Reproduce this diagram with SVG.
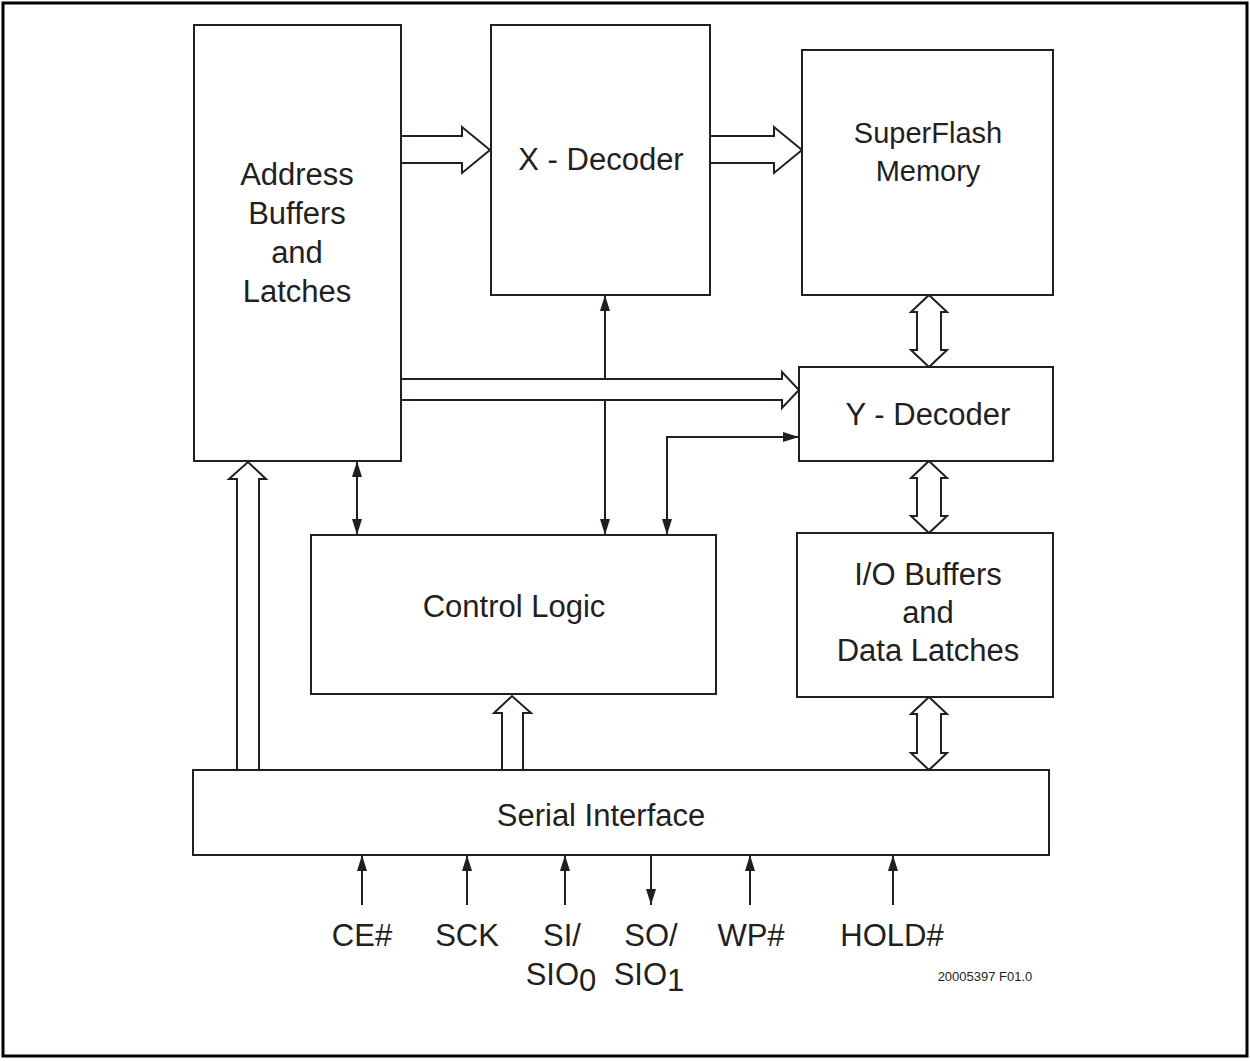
<svg xmlns="http://www.w3.org/2000/svg" width="1250" height="1061" viewBox="0 0 1250 1061">
<defs>
<style>
.box{fill:#fff;stroke:#231f20;stroke-width:2}
.fat{fill:#fff;stroke:#231f20;stroke-width:2;stroke-linejoin:miter}
.ln{fill:none;stroke:#231f20;stroke-width:2}
.t{font-family:"Liberation Sans",Arial,sans-serif;font-size:31px;fill:#231f20;text-anchor:middle}
.s{font-family:"Liberation Sans",Arial,sans-serif;font-size:13px;fill:#231f20;text-anchor:middle}
</style>
<marker id="ah" viewBox="0 0 16 10" refX="16" refY="5" markerWidth="16" markerHeight="10" markerUnits="userSpaceOnUse" orient="auto-start-reverse">
<path d="M0,0 L16,5 L0,10 z" fill="#231f20"/>
</marker>
</defs>
<rect x="3" y="3" width="1244" height="1053" fill="#fff" stroke="#000" stroke-width="3"/>

<g id="connectors">
<path class="ln" d="M605,295 L605,535" marker-start="url(#ah)" marker-end="url(#ah)"/>
<path class="ln" d="M667,535 L667,437 L799,437" marker-start="url(#ah)" marker-end="url(#ah)"/>
<path class="ln" d="M357,461 L357,535" marker-start="url(#ah)" marker-end="url(#ah)"/>
<path class="ln" d="M362,905 L362,855" marker-end="url(#ah)"/>
<path class="ln" d="M467,905 L467,855" marker-end="url(#ah)"/>
<path class="ln" d="M565,905 L565,855" marker-end="url(#ah)"/>
<path class="ln" d="M651,855 L651,905" marker-end="url(#ah)"/>
<path class="ln" d="M750,905 L750,855" marker-end="url(#ah)"/>
<path class="ln" d="M893,905 L893,855" marker-end="url(#ah)"/>
<polygon class="fat" points="401,136 462,136 462,127 490,150 462,173 462,163 401,163"/>
<polygon class="fat" points="710,136 774,136 774,127 802,150 774,173 774,163 710,163"/>
<polygon class="fat" points="401,379 782,379 782,372 799,390 782,408 782,400 401,400"/>
<polygon class="fat" points="929,295 947,312 941,312 941,350 947,350 929,367 911,350 917,350 917,312 911,312"/>
<polygon class="fat" points="929,461 947,478 941,478 941,516 947,516 929,533 911,516 917,516 917,478 911,478"/>
<polygon class="fat" points="929,697 947,714 941,714 941,753 947,753 929,770 911,753 917,753 917,714 911,714"/>
<polygon class="fat" points="237,770 237,479 229,479 248,462 266,479 259,479 259,770"/>
<polygon class="fat" points="502,770 502,713 494,713 512,696 531,713 523,713 523,770"/>
</g>

<g id="address">
<rect class="box" x="194" y="25" width="207" height="436"/>
<text class="t" x="297" y="185">Address</text>
<text class="t" x="297" y="224">Buffers</text>
<text class="t" x="297" y="263">and</text>
<text class="t" x="297" y="302">Latches</text>
</g>
<g id="xdecoder">
<rect class="box" x="491" y="25" width="219" height="270"/>
<text class="t" x="601" y="170">X - Decoder</text>
</g>
<g id="superflash">
<rect class="box" x="802" y="50" width="251" height="245"/>
<text class="t" x="928" y="143" style="font-size:29px">SuperFlash</text>
<text class="t" x="928" y="181" style="font-size:29px">Memory</text>
</g>
<g id="ydecoder">
<rect class="box" x="799" y="367" width="254" height="94"/>
<text class="t" x="928" y="425">Y - Decoder</text>
</g>
<g id="io">
<rect class="box" x="797" y="533" width="256" height="164"/>
<text class="t" x="928" y="585">I/O Buffers</text>
<text class="t" x="928" y="623">and</text>
<text class="t" x="928" y="661">Data Latches</text>
</g>
<g id="control">
<rect class="box" x="311" y="535" width="405" height="159"/>
<text class="t" x="514" y="617">Control Logic</text>
</g>
<g id="serial">
<rect class="box" x="193" y="770" width="856" height="85"/>
<text class="t" x="601" y="826">Serial Interface</text>
</g>

<g id="pins">
<text class="t" x="362" y="946">CE#</text>
<text class="t" x="467" y="946">SCK</text>
<text class="t" x="562" y="946">SI/</text>
<text class="t" x="561" y="985">SIO<tspan dy="6">0</tspan></text>
<text class="t" x="651" y="946">SO/</text>
<text class="t" x="649" y="985">SIO<tspan dy="6">1</tspan></text>
<text class="t" x="751" y="946">WP#</text>
<text class="t" x="892" y="946">HOLD#</text>
</g>
<text class="s" x="985" y="981">20005397 F01.0</text>
</svg>
